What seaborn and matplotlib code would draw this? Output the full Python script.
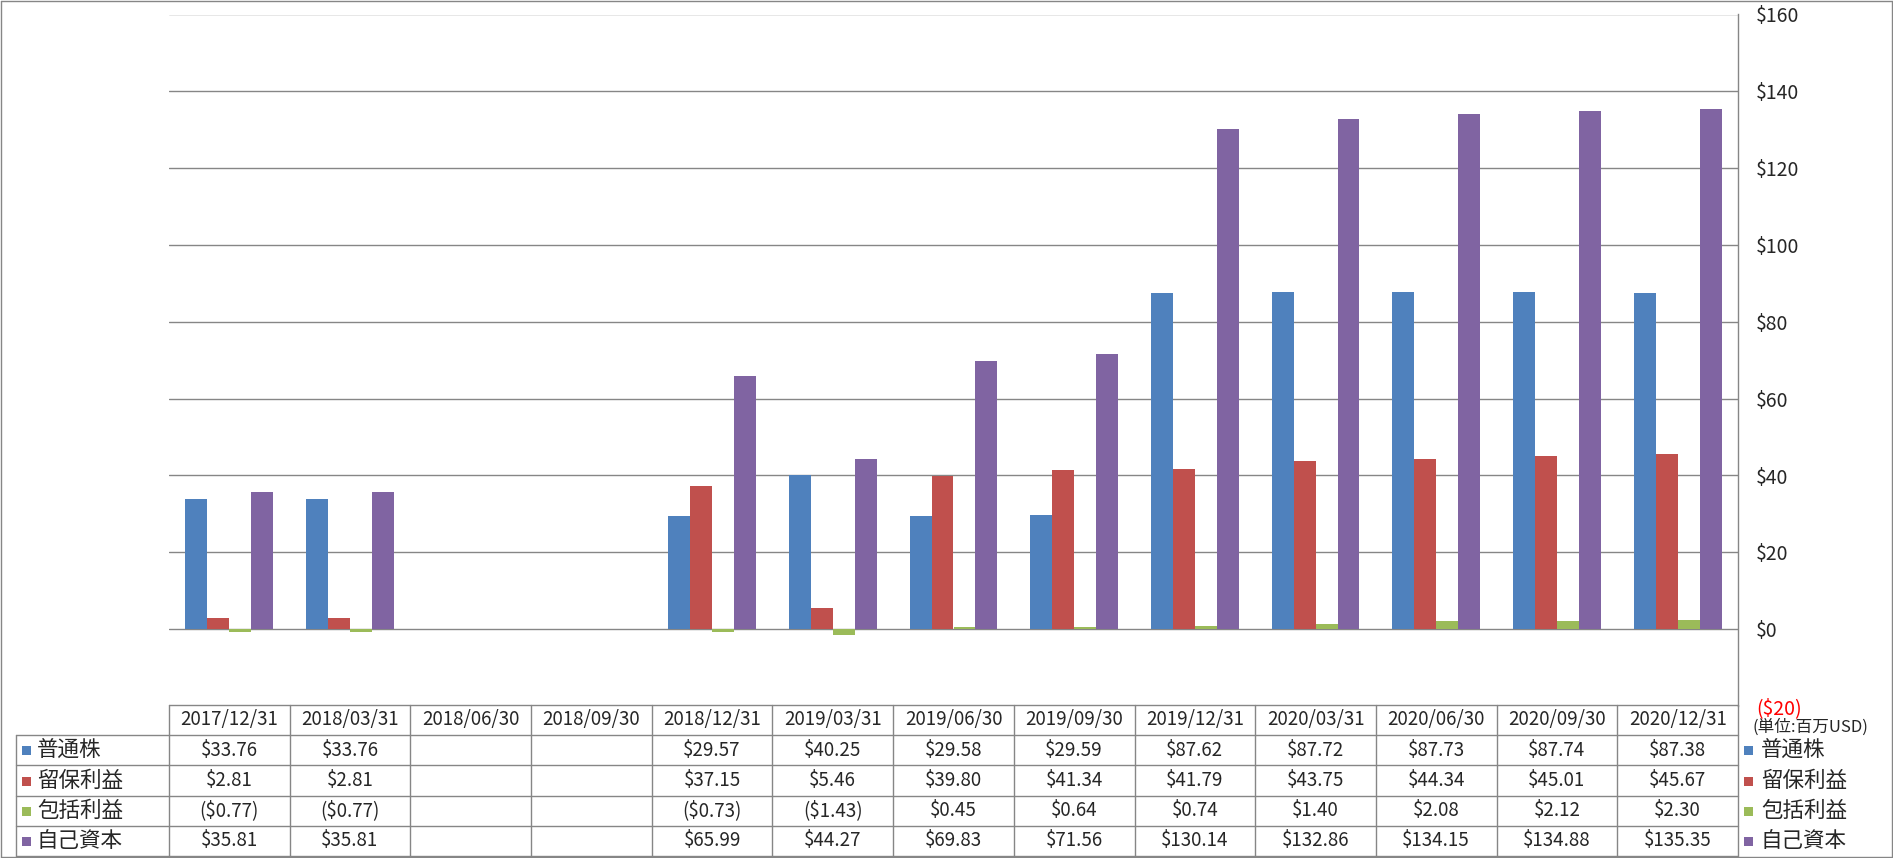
import numpy as np
import pandas as pd
import matplotlib.pyplot as plt
import seaborn as sns
from matplotlib.lines import Line2D
from matplotlib.patches import Rectangle

# data (millions USD)
dates = ['2017/12/31', '2018/03/31', '2018/06/30', '2018/09/30', '2018/12/31',
         '2019/03/31', '2019/06/30', '2019/09/30', '2019/12/31', '2020/03/31',
         '2020/06/30', '2020/09/30', '2020/12/31']
series_names = ['普通株', '留保利益', '包括利益', '自己資本']
common_stock = [33.76, 33.76, np.nan, np.nan, 29.57, 40.25, 29.58, 29.59,
                87.62, 87.72, 87.73, 87.74, 87.38]
retained_earnings = [2.81, 2.81, np.nan, np.nan, 37.15, 5.46, 39.80, 41.34,
                     41.79, 43.75, 44.34, 45.01, 45.67]
comprehensive_income = [-0.77, -0.77, np.nan, np.nan, -0.73, -1.43, 0.45, 0.64,
                        0.74, 1.40, 2.08, 2.12, 2.30]
equity = [35.81, 35.81, np.nan, np.nan, 65.99, 44.27, 69.83, 71.56,
          130.14, 132.86, 134.15, 134.88, 135.35]
y_ticks = [-20, 0, 20, 40, 60, 80, 100, 120, 140, 160]
unit_label = '(単位:百万USD)'

colors = ['#4F81BD', '#C0504D', '#9BBB59', '#8064A2']
GRID = '#868686'

sns.set_style('white')
plt.rcParams['font.family'] = ['Noto Sans CJK JP', 'DejaVu Sans']

W, H = 1893, 858


def fx(px):
    return px / W


def fy(py):
    return 1 - py / H


def money(v):
    if np.isnan(v):
        return ''
    return f'${v:.2f}' if v >= 0 else f'(${-v:.2f})'


values = [common_stock, retained_earnings, comprehensive_income, equity]
df = pd.DataFrame({
    'date': dates * 4,
    'series': [s for s in series_names for _ in dates],
    'value': [v for vals in values for v in vals],
}).dropna()

fig = plt.figure(figsize=(W / 100, H / 100), dpi=100)
ax_l, ax_r, ax_t, ax_b = 169, 1738, 14.5, 706
ax = fig.add_axes([fx(ax_l), fy(ax_b), fx(ax_r - ax_l), (ax_b - ax_t) / H])

sns.barplot(data=df, x='date', y='value', hue='series', order=dates,
            hue_order=series_names, palette=colors, saturation=1, width=0.727,
            gap=0, errorbar=None, linewidth=0, legend=False, ax=ax, zorder=3)

ax.set_xlim(-0.5, len(dates) - 0.5)
ax.set_ylim(-20, 160)
ax.set_xticks([])
ax.set_xlabel('')
ax.set_ylabel('')
ax.yaxis.tick_right()
ax.set_yticks(y_ticks)
ax.set_yticklabels([f'${t}' if t >= 0 else f'(${-t})' for t in y_ticks])
ax.get_yticklabels()[0].set_color('#FF0000')
ax.tick_params(axis='y', length=0, pad=13, labelsize=14)
for t in y_ticks[1:]:
    ax.axhline(t, color=GRID, lw=1, zorder=1)
for side in ['left', 'top', 'bottom']:
    ax.spines[side].set_visible(False)
ax.spines['right'].set_color(GRID)
ax.spines['right'].set_linewidth(1)

# data table below the plot
col_w = (ax_r - ax_l) / len(dates)
col_edges = [ax_l + i * col_w for i in range(len(dates) + 1)]
row_edges = [705, 735, 765, 796, 826, 856]
lab_l = 16


def hline(x0, x1, y):
    fig.add_artist(Line2D([fx(x0), fx(x1)], [fy(y), fy(y)], color=GRID, lw=1))


def vline(x, y0, y1):
    fig.add_artist(Line2D([fx(x), fx(x)], [fy(y0), fy(y1)], color=GRID, lw=1))


hline(ax_l, ax_r, row_edges[0])
for y in row_edges[1:]:
    hline(lab_l, ax_r, y)
vline(lab_l, row_edges[1], row_edges[-1])
for x in col_edges:
    vline(x, row_edges[0], row_edges[-1])

for i, d in enumerate(dates):
    cx = (col_edges[i] + col_edges[i + 1]) / 2
    fig.text(fx(cx), fy((row_edges[0] + row_edges[1]) / 2), d,
             ha='center', va='center', fontsize=13.5)
    for r, vals in enumerate(values):
        cy = (row_edges[r + 1] + row_edges[r + 2]) / 2
        fig.text(fx(cx), fy(cy), money(vals[i]),
                 ha='center', va='center', fontsize=13.5)

# row labels with keys, and the legend on the right
for r, name in enumerate(series_names):
    cy = (row_edges[r + 1] + row_edges[r + 2]) / 2
    for kx, tx in [(22, 37), (1744, 1761)]:
        fig.add_artist(Rectangle((fx(kx), fy(cy + 5)), fx(9), 9 / H,
                                 color=colors[r], lw=0))
        fig.text(fx(tx), fy(cy), name, ha='left', va='center', fontsize=15.5)

fig.text(fx(1752), fy(727), unit_label, ha='left', va='center', fontsize=12)

# outer frame
for x0, y0, x1, y1 in [(0.5, 0.5, 1892, 0.5), (0.5, 857, 1892, 857),
                       (0.5, 0.5, 0.5, 857), (1892, 0.5, 1892, 857)]:
    fig.add_artist(Line2D([fx(x0), fx(x1)], [fy(y0), fy(y1)], color=GRID, lw=1))

fig.savefig('out.png', dpi=100)
